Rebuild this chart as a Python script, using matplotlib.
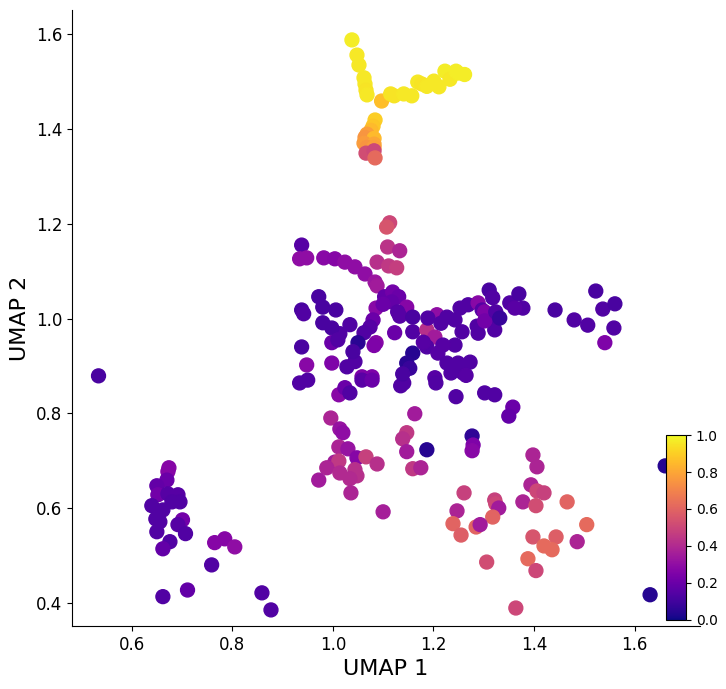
import numpy as np
import matplotlib
matplotlib.use("Agg")
import matplotlib.pyplot as plt

# umap coordinates and score per cell
umap1 = [
    0.534,
    # yellow branch
    1.038, 1.048, 1.052, 1.062, 1.064, 1.066, 1.068, 1.097, 1.115, 1.122, 1.141,
    1.157, 1.169, 1.177, 1.187, 1.201, 1.211, 1.223, 1.233, 1.245, 1.249, 1.262,
    # orange knot
    1.084, 1.080, 1.076, 1.068, 1.064, 1.082, 1.062, 1.082, 1.068, 1.082, 1.066,
    1.082, 1.084,
    # pink spur
    1.113, 1.107, 1.109, 1.133, 1.088, 1.111, 1.127,
    # central cluster
    0.938, 0.934, 0.948, 0.982, 1.004, 1.024, 1.044, 1.064, 1.084, 1.088, 1.103,
    1.119, 1.131, 1.117, 1.147, 1.129, 1.133, 1.159, 1.086, 1.080, 1.074, 1.086,
    1.082, 1.062, 1.050, 1.044, 1.034, 1.014, 0.998, 0.980, 1.006, 0.980, 0.972,
    0.938, 0.942, 0.938, 0.998, 0.948, 0.998, 1.028, 1.058, 1.078, 1.123, 1.159,
    1.159, 1.147, 1.153, 1.187, 1.203, 1.187, 1.207, 1.189, 1.227, 1.243, 1.253,
    1.269, 1.289, 1.297, 1.311, 1.318, 1.326, 1.287, 1.289, 1.257, 1.322, 1.243,
    1.219, 1.209, 1.227, 1.249, 1.273, 1.259, 1.203,
    1.010, 1.040, 1.100, 1.180, 1.235, 1.265, 1.215,
    # right arm
    1.302, 1.302, 1.324, 1.332, 1.352, 1.370, 1.378, 1.362, 1.442, 1.480, 1.507,
    1.523, 1.537, 1.561, 1.559, 1.541, 1.302, 1.322, 1.358, 1.350,
    # below central cluster
    0.934, 0.950, 1.012, 1.024, 1.034, 1.058, 1.078, 1.135, 1.141, 1.205, 1.245,
    1.139,
    # magenta group
    0.996, 1.014, 1.020, 1.012, 1.030, 1.048, 1.066, 1.088, 1.004, 1.012, 0.988,
    1.014, 1.044, 1.048, 1.034, 0.972, 1.036, 1.100, 1.163, 1.147, 1.139, 1.147,
    1.187, 1.159, 1.175,
    # lower right
    1.277, 1.279, 1.277, 1.398, 1.406, 1.394, 1.406, 1.420, 1.466, 1.378, 1.404,
    1.261, 1.322, 1.324, 1.330, 1.318, 1.247, 1.239, 1.255, 1.285, 1.293, 1.505,
    1.486, 1.398, 1.444, 1.420, 1.436, 1.306, 1.388, 1.404, 1.364, 1.631, 1.661,
    # lower left
    0.674, 0.672, 0.670, 0.650, 0.652, 0.672, 0.692, 0.696, 0.680, 0.640, 0.662,
    0.648, 0.656, 0.701, 0.692, 0.707, 0.650, 0.676, 0.662, 0.765, 0.785, 0.805,
    0.759, 0.662, 0.711, 0.859, 0.877,
]
umap2 = [
    0.879,
    1.588, 1.556, 1.535, 1.508, 1.495, 1.482, 1.472, 1.459, 1.474, 1.470, 1.474,
    1.470, 1.499, 1.495, 1.490, 1.501, 1.489, 1.522, 1.505, 1.522, 1.518, 1.515,
    1.419, 1.406, 1.397, 1.389, 1.382, 1.380, 1.370, 1.368, 1.361, 1.361, 1.349,
    1.354, 1.339,
    1.202, 1.193, 1.151, 1.143, 1.119, 1.111, 1.107,
    1.155, 1.126, 1.128, 1.128, 1.126, 1.119, 1.109, 1.094, 1.077, 1.069, 1.046,
    1.056, 1.046, 1.035, 1.024, 1.014, 1.005, 1.003, 1.022, 0.997, 0.982, 0.949,
    0.943, 0.970, 0.949, 0.909, 0.987, 0.968, 0.980, 0.991, 1.018, 1.024, 1.046,
    1.018, 1.010, 0.940, 0.949, 0.902, 0.906, 0.898, 0.877, 0.877, 0.970, 0.972,
    0.927, 0.906, 0.895, 0.976, 0.961, 0.940, 1.008, 1.001, 1.003, 0.997, 1.022,
    1.029, 1.033, 1.018, 1.060, 1.044, 1.003, 0.984, 0.969, 0.972, 0.976, 0.944,
    0.944, 0.927, 0.906, 0.906, 0.908, 0.885, 0.875,
    0.955, 0.930, 1.030, 0.950, 0.885, 0.880, 0.990,
    1.014, 0.995, 1.014, 1.001, 1.033, 1.052, 1.022, 1.022, 1.018, 0.997, 0.986,
    1.058, 1.020, 1.031, 0.980, 0.949, 0.843, 0.839, 0.813, 0.794,
    0.864, 0.870, 0.839, 0.854, 0.843, 0.870, 0.870, 0.858, 0.864, 0.864, 0.835,
    0.883,
    0.790, 0.767, 0.759, 0.729, 0.725, 0.706, 0.708, 0.693, 0.697, 0.699, 0.685,
    0.674, 0.681, 0.668, 0.662, 0.659, 0.632, 0.592, 0.799, 0.759, 0.746, 0.719,
    0.723, 0.683, 0.685,
    0.752, 0.733, 0.721, 0.712, 0.687, 0.649, 0.636, 0.632, 0.613, 0.613, 0.605,
    0.632, 0.617, 0.609, 0.600, 0.581, 0.594, 0.567, 0.543, 0.560, 0.565, 0.565,
    0.529, 0.539, 0.539, 0.520, 0.512, 0.486, 0.493, 0.468, 0.389, 0.417, 0.689,
    0.685, 0.677, 0.659, 0.647, 0.628, 0.630, 0.628, 0.613, 0.613, 0.605, 0.596,
    0.577, 0.571, 0.575, 0.565, 0.546, 0.550, 0.529, 0.514, 0.527, 0.535, 0.518,
    0.480, 0.413, 0.427, 0.421, 0.385,
]
score = [
    0.12,
    0.97, 0.96, 0.96, 0.96, 0.96, 0.95, 0.96, 0.86, 0.95, 0.95, 0.96,
    0.96, 0.96, 0.95, 0.96, 0.96, 0.96, 0.97, 0.96, 0.97, 0.97, 0.97,
    0.90, 0.88, 0.85, 0.78, 0.75, 0.85, 0.77, 0.80, 0.75, 0.78, 0.52,
    0.50, 0.62,
    0.50, 0.55, 0.43, 0.38, 0.42, 0.45, 0.47,
    0.15, 0.30, 0.30, 0.28, 0.27, 0.30, 0.30, 0.30, 0.33, 0.35, 0.18,
    0.22, 0.20, 0.18, 0.27, 0.15, 0.15, 0.12, 0.28, 0.20, 0.15, 0.27,
    0.25, 0.14, 0.05, 0.14, 0.14, 0.14, 0.12, 0.12, 0.12, 0.12, 0.12,
    0.12, 0.14, 0.12, 0.20, 0.28, 0.25, 0.14, 0.25, 0.25, 0.20, 0.14,
    0.04, 0.05, 0.08, 0.42, 0.35, 0.14, 0.30, 0.14, 0.14, 0.14, 0.14,
    0.14, 0.28, 0.15, 0.12, 0.14, 0.14, 0.14, 0.14, 0.14, 0.14, 0.14,
    0.15, 0.15, 0.14, 0.14, 0.14, 0.14, 0.15,
    0.14, 0.12, 0.20, 0.15, 0.14, 0.15, 0.14,
    0.25, 0.22, 0.14, 0.08, 0.14, 0.12, 0.14, 0.16, 0.12, 0.14, 0.14,
    0.12, 0.14, 0.12, 0.14, 0.25, 0.14, 0.14, 0.20, 0.18,
    0.14, 0.14, 0.28, 0.20, 0.14, 0.16, 0.20, 0.14, 0.14, 0.14, 0.14,
    0.12,
    0.38, 0.32, 0.30, 0.38, 0.32, 0.27, 0.48, 0.42, 0.35, 0.45, 0.38,
    0.40, 0.42, 0.42, 0.40, 0.35, 0.38, 0.36, 0.35, 0.45, 0.42, 0.35,
    0.04, 0.45, 0.38,
    0.06, 0.25, 0.28, 0.38, 0.38, 0.38, 0.50, 0.48, 0.60, 0.38, 0.52,
    0.48, 0.48, 0.50, 0.35, 0.60, 0.38, 0.60, 0.58, 0.60, 0.35, 0.62,
    0.38, 0.55, 0.58, 0.62, 0.62, 0.52, 0.62, 0.50, 0.50, 0.04, 0.04,
    0.27, 0.27, 0.20, 0.18, 0.22, 0.15, 0.15, 0.14, 0.14, 0.14, 0.14,
    0.14, 0.14, 0.22, 0.15, 0.14, 0.14, 0.14, 0.18, 0.27, 0.27, 0.30,
    0.14, 0.14, 0.18, 0.14, 0.14,
]

cbar_ticks = [0.0, 0.2, 0.4, 0.6, 0.8, 1.0]

fig = plt.figure(figsize=(7.26, 6.89), dpi=100)
ax = fig.add_axes([0.099, 0.0914, 0.865, 0.894])

sc = ax.scatter(umap1, umap2, c=score, cmap="plasma", vmin=0, vmax=1, s=100)

ax.set_xlim(0.481, 1.730)
ax.set_ylim(0.351, 1.651)
ax.set_xlabel("UMAP 1", fontsize=16)
ax.set_ylabel("UMAP 2", fontsize=16)
ax.tick_params(labelsize=12)
ax.spines["top"].set_visible(False)
ax.spines["right"].set_visible(False)

# small colorbar tucked into the lower right corner
cax = ax.inset_axes([0.946, 0.01, 0.032, 0.30])
cb = fig.colorbar(sc, cax=cax, ticks=cbar_ticks)
cb.ax.tick_params(labelsize=10)

fig.savefig("out.png", dpi=100)
